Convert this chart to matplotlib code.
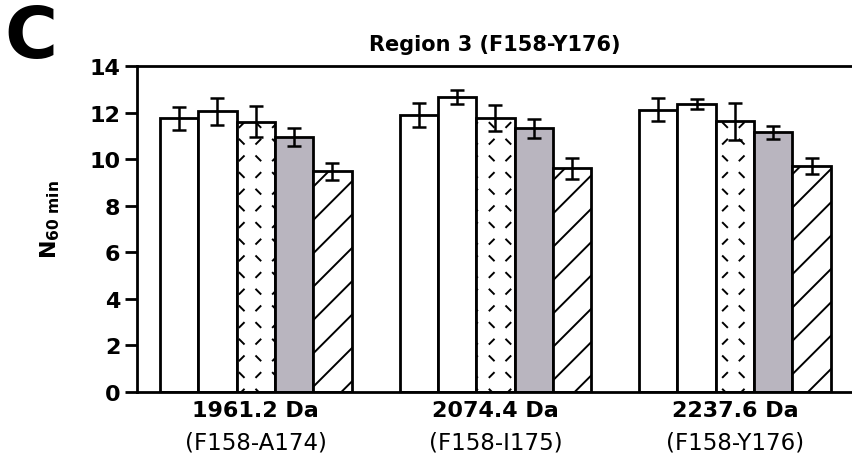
import warnings
warnings.filterwarnings('ignore')
import numpy as np
import matplotlib
matplotlib.use('Agg')
import matplotlib.pyplot as plt
import matplotlib.hatch as mhatch
from matplotlib.path import Path

# ---------------- data ----------------
group_masses = ['1961.2 Da', '2074.4 Da', '2237.6 Da']
group_fragments = ['(F158-A174)', '(F158-I175)', '(F158-Y176)']
series1 = [11.75, 11.90, 12.12]
series1_err = [0.49, 0.52, 0.50]
series2 = [12.05, 12.68, 12.38]
series2_err = [0.58, 0.30, 0.22]
series3 = [11.60, 11.76, 11.63]
series3_err = [0.67, 0.57, 0.80]
series4 = [10.95, 11.32, 11.15]
series4_err = [0.40, 0.40, 0.27]
series5 = [9.48, 9.60, 9.70]
series5_err = [0.36, 0.47, 0.33]
yticks = [0, 2, 4, 6, 8, 10, 12, 14]
title = 'Region 3 (F158-Y176)'
panel = 'C'


# custom hatch of short alternating dashes
class DashHatch(mhatch.HatchPatternBase):
    def __init__(self, hatch, density):
        self.n = int(hatch.count('k') * density)
        self.num_vertices = self.n * self.n * 2

    def set_vertices_and_codes(self, vertices, codes):
        n = self.n
        step = 1.0 / n
        half = step * 0.13
        k = 0
        for i in range(n):
            for j in range(n):
                cx = (i + 0.5) * step
                cy = (j + 0.5) * step
                s = 1 if (i + j) % 2 == 0 else -1
                vertices[k] = (cx - half, cy - s * half)
                vertices[k + 1] = (cx + half, cy + s * half)
                codes[k] = Path.MOVETO
                codes[k + 1] = Path.LINETO
                k += 2


mhatch._hatch_types.append(DashHatch)

plt.rcParams['font.family'] = ['DejaVu Sans']
plt.rcParams['mathtext.fontset'] = 'dejavusans'
plt.rcParams['hatch.linewidth'] = 1.4

fig = plt.figure(figsize=(8.53, 4.60), dpi=100)
ax = fig.add_axes([137 / 853, 67 / 460, (853 - 137) / 853, 326 / 460])

series = [series1, series2, series3, series4, series5]
errs = [series1_err, series2_err, series3_err, series4_err, series5_err]
faces = ['white', 'white', 'white', '#b9b5bf', 'white']
hatches = [None, None, 'k', None, '/']
x = np.arange(len(group_masses))
w = 0.16
for i, (vals, e) in enumerate(zip(series, errs)):
    ax.bar(x + (i - 2) * w, vals, w, yerr=e, color=faces[i], edgecolor='black',
           linewidth=2.0, hatch=hatches[i], zorder=2,
           error_kw=dict(ecolor='black', elinewidth=1.8, capsize=5, capthick=1.8, zorder=3))

ax.set_xlim(-0.496, 2.493)
ax.set_ylim(0, 14)
ax.set_yticks(yticks)
ax.set_yticklabels([str(t) for t in yticks], fontweight='bold', fontsize=16)
ax.tick_params(axis='y', direction='out', length=9, width=2, pad=3)
ax.set_xticks(x)
ax.set_xticklabels(group_masses, fontweight='bold', fontsize=16)
ax.tick_params(axis='x', length=0, pad=6)
for xi, frag in zip(x, group_fragments):
    ax.annotate(frag, xy=(xi, 0), xycoords=('data', 'axes fraction'),
                xytext=(0, -28), textcoords='offset points',
                ha='center', va='top', fontsize=16.5)

for s in ['left', 'bottom', 'top']:
    ax.spines[s].set_linewidth(2)
ax.spines['right'].set_visible(False)

fig.text(0.5803, 1 - 45 / 460, title, ha='center', va='center',
         fontsize=15, fontweight='bold')
fig.text(4 / 853, 1 - 58 / 460, panel, ha='left', va='baseline',
         fontsize=52, fontweight='bold')
fig.text(50 / 853, 1 - 220 / 460, r'$\mathbf{N}_{\mathbf{60\ min}}$',
         rotation=90, ha='center', va='center', fontsize=16)

fig.savefig('out.png', dpi=100)
